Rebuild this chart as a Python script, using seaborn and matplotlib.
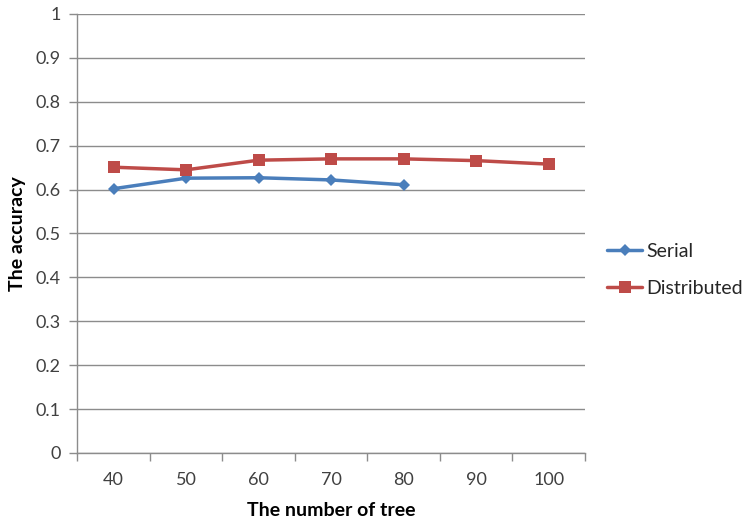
import matplotlib
matplotlib.use("Agg")
import matplotlib.pyplot as plt
import seaborn as sns
import pandas as pd

trees = [40, 50, 60, 70, 80, 90, 100]
serial = [0.602, 0.626, 0.627, 0.622, 0.611]
distributed = [0.651, 0.645, 0.667, 0.670, 0.670, 0.666, 0.658]

rows = []
for i, v in enumerate(serial):
    rows.append({"pos": i, "acc": v, "method": "Serial"})
for i, v in enumerate(distributed):
    rows.append({"pos": i, "acc": v, "method": "Distributed"})
df = pd.DataFrame(rows)

sns.set_style("white")
plt.rcParams["font.family"] = ["Lato", "DejaVu Sans"]

fig = plt.figure(figsize=(7.5, 5.24), dpi=100)
ax = fig.add_axes([0.103, 0.1355, 0.677, 0.8378])

grid_c = "#8c8c8c"
ax.set_axisbelow(True)
ax.yaxis.grid(True, color=grid_c, lw=1)

palette = {"Serial": "#4A7EBB", "Distributed": "#BE4B48"}
sns.lineplot(data=df, x="pos", y="acc", hue="method", style="method",
             markers={"Serial": "D", "Distributed": "s"}, dashes=False,
             palette=palette, lw=2.5, ax=ax, legend=False,
             markeredgewidth=0)
for line in ax.lines:
    if line.get_color().lower() == "#4a7ebb":
        line.set_markersize(6)
    else:
        line.set_markersize(8)

ax.set_xlim(-0.5, 6.5)
ax.set_ylim(0, 1)
ax.set_yticks([i / 10 for i in range(11)])
ax.set_yticklabels(["0"] + [f"0.{i}" for i in range(1, 10)] + ["1"])
ax.set_xticks(range(len(trees)))
ax.set_xticklabels([str(t) for t in trees])
ax.set_xticks([i + 0.5 for i in range(-1, 7)], minor=True)
ax.tick_params(axis="x", which="major", length=0, pad=14, labelsize=13, labelcolor="#404040")
ax.tick_params(axis="x", which="minor", length=6, color=grid_c, width=1, direction="out")
ax.tick_params(axis="y", length=6, color=grid_c, width=1, direction="out", pad=6,
               labelsize=13, labelcolor="#404040")
ax.xaxis.set_ticks_position("bottom")
ax.yaxis.set_ticks_position("left")

for s in ["top", "right"]:
    ax.spines[s].set_visible(False)
for s in ["left", "bottom"]:
    ax.spines[s].set_color(grid_c)
    ax.spines[s].set_linewidth(1)

ax.set_xlabel("The number of tree", fontsize=14, fontweight="bold", color="black", labelpad=10)
ax.set_ylabel("The accuracy", fontsize=14, fontweight="bold", color="black", labelpad=7)

from matplotlib.lines import Line2D
handles = [Line2D([], [], color=palette["Serial"], marker="D", lw=2.5, markersize=6, markeredgewidth=0),
           Line2D([], [], color=palette["Distributed"], marker="s", lw=2.5, markersize=8, markeredgewidth=0)]
leg = fig.legend(handles, ["Serial", "Distributed"], loc="center left",
                 bbox_to_anchor=(0.786, 0.485), frameon=False, fontsize=14,
                 handlelength=1.8, handletextpad=0.2, labelspacing=1.0)
for t in leg.get_texts():
    t.set_color("#262626")

fig.savefig("out.png", dpi=100)
